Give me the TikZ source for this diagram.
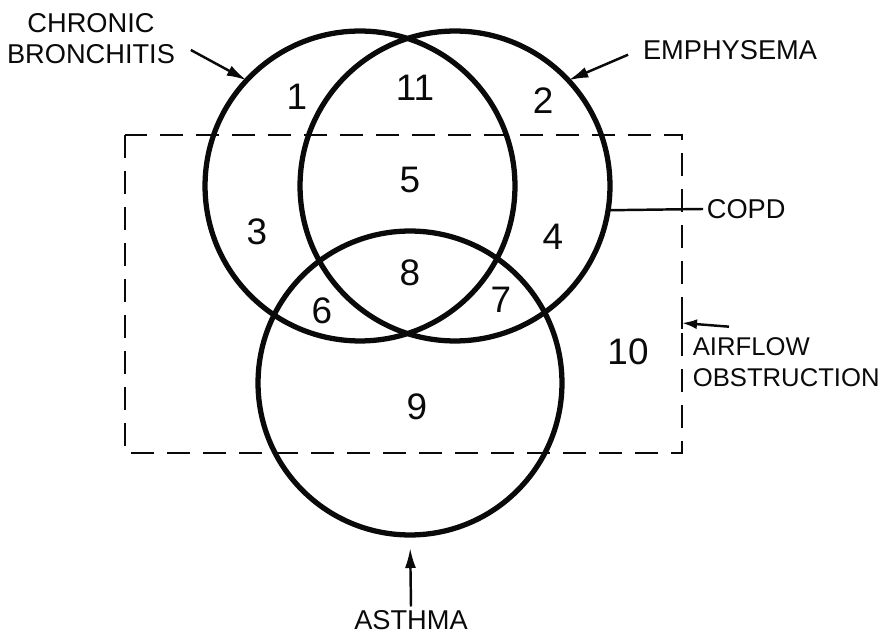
\documentclass[tikz,border=0pt]{standalone}
\usepackage{fontspec}
\setmainfont{Liberation Sans}
\usetikzlibrary{arrows.meta,positioning}
\definecolor{ink}{HTML}{0A0A0A}
\newcommand{\lblfont}{\fontsize{15.5}{17.5}\selectfont}
\newcommand{\numfont}{\fontsize{21}{24}\selectfont}

\begin{document}
\begin{tikzpicture}[
  x=0.02cm, y=-0.02cm,
  ring/.style={draw=ink, circle, line width=3pt, inner sep=0pt, outer sep=0pt},
  region/.style={font=\numfont, text=ink, inner sep=0pt},
  tag/.style={font=\lblfont, text=ink, inner sep=2pt, align=center},
  copdbox/.style={draw=ink, line width=1.3pt, dash pattern=on 0.46cm off 0.26cm},
  arrow/.style={-{Latex[length=4mm,width=2.2mm]}, line width=1.4pt, draw=ink},
  lead/.style={line width=1.4pt, draw=ink}
]
\useasboundingbox (0,0) rectangle (888,634);

\node[ring, minimum size=6.2cm] (bronchitis) at (360,186) {};
\node[ring, minimum size=6.2cm] (emphysema) at (455,186) {};
\node[ring, minimum size=6.08cm] (asthma) at (410,383) {};
\draw[copdbox] (125,135) rectangle (682,453);

\node[region] (r1) at (297,97) {1};
\node[region] (r11) at (415,88) {11};
\node[region] (r2) at (543,101) {2};
\node[region] (r5) at (410,180) {5};
\node[region] (r3) at (257,232) {3};
\node[region] (r4) at (553,237) {4};
\node[region] (r8) at (410,273) {8};
\node[region] (r6) at (322,311) {6};
\node[region] (r7) at (501,300) {7};
\node[region] (r9) at (417,407) {9};
\node[region] (r10) at (628,352) {10};

\node[tag] (bronchitislabel) at (91,39) {CHRONIC\\BRONCHITIS};
\node[tag] (emphysemalabel) at (730,50) {EMPHYSEMA};
\node[tag, anchor=west] (copdlabel) at (703,209) {COPD};
\node[tag, anchor=west, align=left, font=\fontsize{14.6}{17.5}\selectfont] (airflowlabel) at (689,362) {AIRFLOW\\OBSTRUCTION};
\node[tag] (asthmalabel) at (411,620) {ASTHMA};
\coordinate (afbar) at (682,323);

\draw[arrow] ([shift={(12,11)}]bronchitislabel.east) -- (bronchitis.137);
\draw[arrow, shorten <=0.24cm] (emphysemalabel.west) -- (emphysema.43);
\draw[lead] (emphysema.-9) -- (copdlabel.west);
\draw[lead] ([shift={(0,-16)}]afbar) -- ([shift={(0,6)}]afbar);
\draw[arrow, -{Latex[length=3mm,width=2mm]}] ([shift={(40,-7)}]airflowlabel.north west) -- (afbar);
\draw[arrow, shorten >=0.26cm] (asthmalabel.north) -- (asthma.south);
\end{tikzpicture}
\end{document}
